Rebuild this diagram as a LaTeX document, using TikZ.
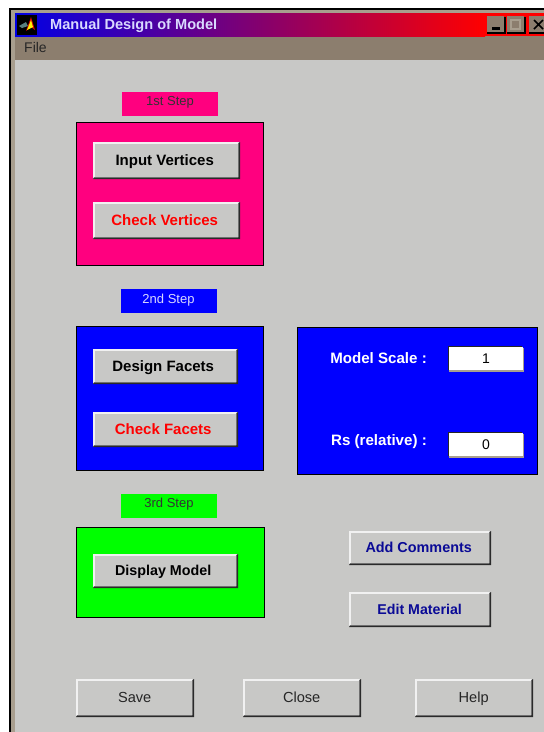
\documentclass[tikz,border=0pt]{standalone}
\usepackage{fontspec}
\setmainfont{Liberation Sans}
\definecolor{bodygrey}{HTML}{C8C8C6}
\definecolor{chrome}{HTML}{8C7E6E}
\definecolor{framec}{HTML}{A89E8E}
\definecolor{hotpink}{HTML}{FF007F}
\definecolor{navytxt}{HTML}{0A0A96}
\definecolor{blueb}{HTML}{0000FF}
\definecolor{greenb}{HTML}{00FF00}
\definecolor{btnedge}{HTML}{2A2A2A}
\newcommand{\raisedbtn}[5]{% name, x1, y1, x2, y2
  \fill[white!75!bodygrey] (#2,#3) rectangle (#4,#5);
  \fill[btnedge] (#2,#5) -- (#4,#5) -- (#4,#3) -- (#4-1.6,#3+1) -- (#4-1.6,#5-1.6) -- (#2+1,#5-1.6) -- cycle;
  \node[panelbtn, minimum width={(#4-#2-3.6)*1pt}, minimum height={(#5-#3-3.6)*1pt}] (#1) at ({(#2+#4)/2-0.3},{(#3+#5)/2-0.3}) {};
}
\tikzset{
  panelbtn/.style={fill=bodygrey, draw=none, inner sep=0pt},
  fixedline/.style={text height=10pt, text depth=0pt, inner sep=0pt},
  boldlabel/.style={fixedline, font=\fontsize{15}{17}\selectfont\bfseries, text=black},
  steplabel/.style={font=\fontsize{13}{15}\selectfont, inner sep=0pt, minimum height=24pt, minimum width=96pt},
  steptext/.style={fixedline, font=\fontsize{13}{15}\selectfont},
  framebox/.style={draw=black, line width=0.9pt},
  plainlabel/.style={fixedline, font=\fontsize{14.6}{16}\selectfont, text=black!85},
  whitelabel/.style={fixedline, font=\fontsize{15.1}{17}\selectfont\bfseries, text=white, anchor=east},
  editbox/.style={fill=white, draw=none, minimum width=74pt, minimum height=23pt, inner sep=0pt, font=\fontsize{14}{16}\selectfont},
}
\begin{document}
\begin{tikzpicture}[x=1pt,y=-1pt]
\useasboundingbox (0,0) rectangle (544,732);
\fill[white] (0,0) rectangle (544,732);
% window frame
\fill[black] (9,8) rectangle (544,732);
\fill[framec] (11,10) rectangle (544,732);
\fill[bodygrey] (15,60) rectangle (544,732);
\fill[chrome] (15,36) rectangle (544,60);
\shade[left color=blue!90!black, right color=red] (15,13) rectangle (485,36);
\fill[red] (485,13) rectangle (544,36);
% icon
\fill[black] (17,15) rectangle (37,35);
\fill[red!85!black] (26,31) -- (31,17) -- (35,30) -- (31,27) -- cycle;
\fill[yellow] (27,30) -- (31,20) -- (33,27) -- cycle;
\fill[gray!70!teal] (19,26) -- (26,22) -- (28,26) -- (22,28) -- cycle;
\node[fixedline, anchor=west, font=\fontsize{14.6}{17}\selectfont\bfseries, text=white!85!blue] (title) at (50,24.5) {Manual Design of Model};
\node[fixedline, anchor=west, font=\fontsize{14}{16}\selectfont, text=black!85] (filemenu) at (24,47.5) {File};
% window buttons
\fill[black] (487,17) rectangle (505.5,34);
\fill[chrome] (487,16) rectangle (504,32);
\fill[black] (492,27) rectangle (500,30);
\fill[black] (507,17) rectangle (526,34);
\fill[chrome] (507,16) rectangle (524,32);
\draw[framec, line width=1.2pt] (511,20) rectangle (520,29);
\fill[black] (529,17) rectangle (544,34);
\fill[chrome] (529,16) rectangle (544,32);
\draw[black, line width=1.7pt] (534,20) -- (543,29) (534,29) -- (543,20);
% step 1
\node[steplabel, fill=hotpink] (s1) at (170,104) {};
\node[steptext, text=black!80] (s1t) at (170,100) {1st Step};
\fill[hotpink] (76,122) rectangle (263,265);
\draw[framebox] (76,122) rectangle (263,265);
\raisedbtn{b1}{93}{142}{240}{179}
\node[boldlabel, xshift=-1.5pt] (t1) at (b1) {Input Vertices};
\raisedbtn{b2}{93}{202}{240}{239}
\node[boldlabel, xshift=-1.5pt, text=red] (t2) at (b2) {Check Vertices};
% step 2
\node[steplabel, fill=blueb] (s2) at (169,301) {};
\node[steptext, text=white!85!blue] (s2t) at (168.5,298) {2nd Step};
\fill[blueb] (76,326) rectangle (263,470);
\draw[framebox] (76,326) rectangle (263,470);
\raisedbtn{b3}{93}{349}{238}{384}
\node[boldlabel, xshift=-2pt] (t3) at (b3) {Design Facets};
\raisedbtn{b4}{93}{412}{238}{447}
\node[boldlabel, xshift=-2pt, text=red] (t4) at (b4) {Check Facets};
% scale panel
\fill[blueb] (297,327) rectangle (537,474);
\draw[framebox] (297,327) rectangle (537,474);
\node[whitelabel] (l1) at (427,358) {Model Scale :};
\node[whitelabel] (l2) at (427,440) {Rs (relative) :};
\fill[black!85] (448,346) rectangle (522,370);
\fill[framec] (449,348) rectangle (524,371.5);
\node[editbox] (e1) at (486,358.5) {1};
\fill[black!85] (448,432) rectangle (522,456);
\fill[framec] (449,434) rectangle (524,457.5);
\node[editbox] (e2) at (486,444.5) {0};
% step 3
\node[steplabel, fill=greenb] (s3) at (169,506) {};
\node[steptext, text=black!80] (s3t) at (169,502) {3rd Step};
\fill[greenb] (76,527) rectangle (264,617);
\draw[framebox] (76,527) rectangle (264,617);
\raisedbtn{b5}{93}{554}{238}{588}
\node[boldlabel, xshift=-2pt, font=\fontsize{14.3}{16}\selectfont\bfseries] (t5) at (b5) {Display Model};
% side buttons
\raisedbtn{b6}{349}{531}{491}{565}
\node[boldlabel, xshift=-1pt, font=\fontsize{14.4}{16}\selectfont\bfseries, text=navytxt] (t6) at (b6) {Add Comments};
\raisedbtn{b7}{349}{592}{491}{627}
\node[boldlabel, font=\fontsize{14.2}{16}\selectfont\bfseries, text=navytxt] (t7) at (b7) {Edit Material};
% bottom buttons
\raisedbtn{b8}{76}{679}{194}{717}
\node[plainlabel] (t8) at (b8) {Save};
\raisedbtn{b9}{243}{679}{361}{717}
\node[plainlabel] (t9) at (b9) {Close};
\raisedbtn{b10}{415}{679}{533}{717}
\node[plainlabel] (t10) at (b10) {Help};
\end{tikzpicture}
\end{document}
